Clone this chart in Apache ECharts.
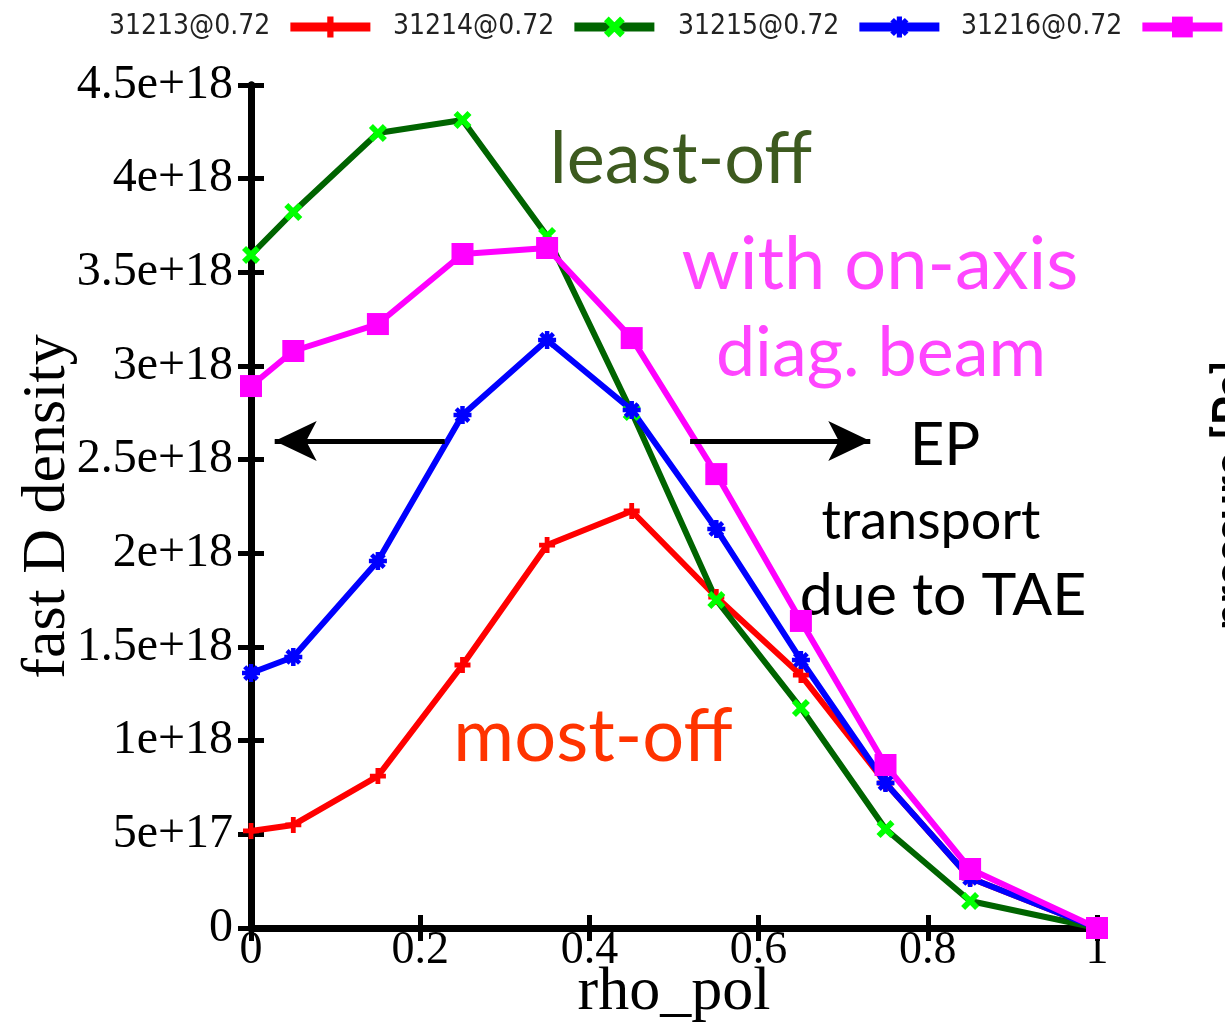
<!DOCTYPE html>
<html>
<head>
<meta charset="utf-8">
<script src="https://cdn.jsdelivr.net/npm/echarts@6/dist/echarts.min.js"></script>
<style>
html,body{margin:0;padding:0;background:#fff;overflow:hidden;}
#chart{width:1225px;height:1025px;}
</style>
</head>
<body>
<div id="chart"></div>
<script>
// ---- data ----
const rho = [0, 0.05, 0.15, 0.25, 0.35, 0.45, 0.55, 0.65, 0.75, 0.85, 1.0];
const names = ['31213@0.72', '31214@0.72', '31215@0.72', '31216@0.72'];
const s31213 = [0.518e18, 0.550e18, 0.811e18, 1.404e18, 2.044e18, 2.226e18, 1.767e18, 1.350e18, 0.774e18, 0.267e18, 0];
const s31214 = [3.593e18, 3.822e18, 4.244e18, 4.313e18, 3.694e18, 2.754e18, 1.751e18, 1.174e18, 0.528e18, 0.144e18, 0];
const s31215 = [1.361e18, 1.447e18, 1.959e18, 2.738e18, 3.139e18, 2.765e18, 2.130e18, 1.431e18, 0.774e18, 0.267e18, 0];
const s31216 = [2.893e18, 3.080e18, 3.224e18, 3.598e18, 3.630e18, 3.149e18, 2.423e18, 1.639e18, 0.870e18, 0.315e18, 0];
const yTickLabels = ['0', '5e+17', '1e+18', '1.5e+18', '2e+18', '2.5e+18', '3e+18', '3.5e+18', '4e+18', '4.5e+18'];
const xTickLabels = ['0', '0.2', '0.4', '0.6', '0.8', '1'];
const arrowLeft = [[0.229, 2.6e18], [0.028, 2.6e18]];
const arrowRight = [[0.519, 2.6e18], [0.732, 2.6e18]];

// ---- styles ----
const serif = '"Liberation Serif", "Times New Roman", serif';
const narrow = '"Liberation Sans Narrow", "DejaVu Sans Condensed", "Liberation Sans", sans-serif';
const humanist = 'Lato, "Open Sans", sans-serif';
const plusPath = 'path://M2.8,0H5.2V2.8H8V5.2H5.2V8H2.8V5.2H0V2.8H2.8Z';
const xPath = 'path://M0,1.8L1.8,0L4,2.2L6.2,0L8,1.8L5.8,4L8,6.2L6.2,8L4,5.8L1.8,8L0,6.2L2.2,4Z';
const starPath = 'path://M3,0H5V3H8V5H5V8H3V5H0V3H3Z M0.5,1.9L1.9,0.5L4,2.6L6.1,0.5L7.5,1.9L5.4,4L7.5,6.1L6.1,7.5L4,5.4L1.9,7.5L0.5,6.1L2.6,4Z';

const pairs = arr => arr.map((v, i) => [rho[i], v]);

function mkSeries(name, data, lineColor, symColor, symbol, symSize) {
  return {
    name: name, type: 'line', data: pairs(data),
    symbol: symbol, symbolSize: symSize, showAllSymbol: true,
    lineStyle: { color: lineColor, width: 6 },
    itemStyle: { color: symColor },
    emphasis: { disabled: true },
    animation: false
  };
}

const legendLefts = [104, 388, 673, 956];
const legends = names.map((n, i) => ({
  data: [n], left: legendLefts[i], top: 8, align: 'right',
  itemWidth: 80, itemHeight: 26, selectedMode: false,
  lineStyle: { width: 9 },
  textStyle: { fontSize: 28, fontFamily: narrow, color: '#222', padding: [0, 15, 0, 0] }
}));

const axisLineStyle = { lineStyle: { color: '#000', width: 7 } };
const tickStyle = { show: true, inside: true, length: 13, lineStyle: { color: '#000', width: 5 } };

const option = {
  backgroundColor: '#fff',
  animation: false,
  legend: legends,
  grid: { left: 251, right: 128, top: 85, bottom: 97, containLabel: false, outerBoundsMode: 'none' },
  xAxis: [{
    type: 'value', min: 0, max: 1, interval: 0.2, position: 'bottom',
    name: 'rho_pol', nameLocation: 'middle', nameGap: 34, nameMoveOverlap: false,
    nameTextStyle: { fontFamily: serif, fontSize: 62, color: '#000' },
    axisLine: axisLineStyle, axisTick: tickStyle,
    axisLabel: { margin: 0, fontFamily: serif, fontSize: 46, color: '#000',
      formatter: (v, i) => xTickLabels[i] },
    splitLine: { show: false }
  }, {
    type: 'value', min: 0, max: 1, interval: 0.2, position: 'top',
    axisLine: axisLineStyle, axisTick: tickStyle,
    axisLabel: { show: false }, splitLine: { show: false }
  }],
  yAxis: [{
    type: 'value', min: 0, max: 4.5e18, interval: 5e17, position: 'left',
    name: 'fast D density', nameLocation: 'middle', nameGap: 172, nameMoveOverlap: false,
    nameTextStyle: { fontFamily: serif, fontSize: 62, color: '#000' },
    axisLine: axisLineStyle, axisTick: tickStyle,
    axisLabel: { margin: 18, fontFamily: serif, fontSize: 48, color: '#000',
      formatter: (v, i) => yTickLabels[i] },
    splitLine: { show: false }
  }, {
    type: 'value', min: 0, max: 4.5e18, interval: 5e17, position: 'right',
    axisLine: axisLineStyle, axisTick: tickStyle,
    axisLabel: { show: false }, splitLine: { show: false }
  }],
  series: [
    {
      name: 'arrows', type: 'line', data: [], silent: true,
      markLine: {
        silent: true, animation: false,
        symbol: ['none', 'arrow'], symbolSize: [30, 42],
        label: { show: false },
        lineStyle: { color: '#000', width: 5, type: 'solid' },
        emphasis: { disabled: true },
        data: [
          [{ coord: arrowLeft[0] }, { coord: arrowLeft[1] }],
          [{ coord: arrowRight[0] }, { coord: arrowRight[1] }]
        ]
      }
    },
    mkSeries(names[0], s31213, '#ff0000', '#ff0000', plusPath, 16),
    mkSeries(names[1], s31214, '#006400', '#00ff00', xPath, 18),
    mkSeries(names[2], s31215, '#0000ff', '#0000ff', starPath, 18),
    mkSeries(names[3], s31216, '#ff00ff', '#ff00ff', 'rect', 22)
  ],
  graphic: { elements: [
    { type: 'text', x: 681, y: 160, style: { text: 'least-off', fontFamily: humanist, fontSize: 72, fill: '#3d5a1f', align: 'center', verticalAlign: 'middle' } },
    { type: 'text', x: 880, y: 265, style: { text: 'with on-axis', fontFamily: humanist, fontSize: 74, fill: '#ff45ff', align: 'center', verticalAlign: 'middle' } },
    { type: 'text', x: 881, y: 353, style: { text: 'diag. beam', fontFamily: humanist, fontSize: 70, fill: '#ff45ff', align: 'center', verticalAlign: 'middle' } },
    { type: 'text', x: 945, y: 446, style: { text: 'EP', fontFamily: humanist, fontSize: 60, fill: '#000', align: 'center', verticalAlign: 'middle' } },
    { type: 'text', x: 931, y: 522, style: { text: 'transport', fontFamily: humanist, fontSize: 54, fill: '#000', align: 'center', verticalAlign: 'middle' } },
    { type: 'text', x: 943, y: 596, style: { text: 'due to TAE', fontFamily: humanist, fontSize: 59, fill: '#000', align: 'center', verticalAlign: 'middle' } },
    { type: 'text', x: 593, y: 737, style: { text: 'most-off', fontFamily: humanist, fontSize: 74, fill: '#ff3300', align: 'center', verticalAlign: 'middle' } },
    { type: 'text', x: 1208, y: 495, rotation: Math.PI / 2, style: { text: 'pressure [Pa]', fontFamily: humanist, fontSize: 47, fontWeight: 'bold', fill: '#000', align: 'center', verticalAlign: 'top' } }
  ] }
};

const chart = echarts.init(document.getElementById('chart'), null, { renderer: 'canvas' });
chart.setOption(option);
</script>
</body>
</html>
